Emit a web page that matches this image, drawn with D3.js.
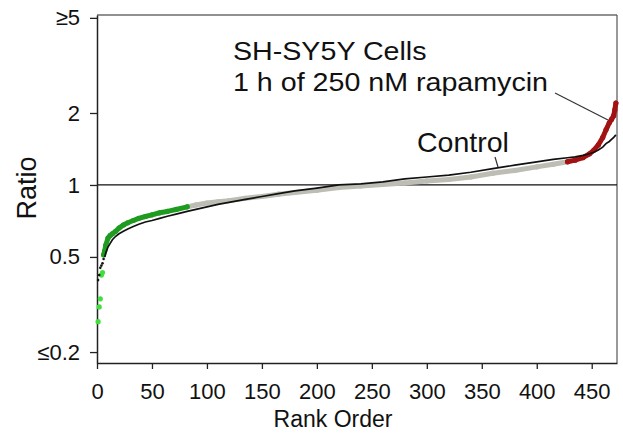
<!DOCTYPE html>
<html>
<head>
<meta charset="utf-8">
<script src="https://cdn.jsdelivr.net/npm/d3@7"></script>
<style>
  body { margin: 0; background: #fff; }
  text { font-family: "Liberation Sans", Arial, sans-serif; fill: #111; }
</style>
</head>
<body>
<svg id="chart" width="623" height="437"></svg>
<script>
// DATA
var ranks = [1,2,3,4,5,6,7,8,10,12,14,17,20,24,28,33,38,44,50,57,64,72,82,
             90,100,110,120,135,150,165,180,200,220,240,260,280,300,320,340,360,380,400,415,
             428,435,442,448,452,456,460,463,466,468,470,471,472];

var rapamycin = [0.268,0.309,0.334,0.42,0.43,0.51,0.53,0.56,0.60,0.615,0.625,0.64,0.66,0.68,0.695,0.71,0.725,0.738,0.75,0.765,0.775,0.79,0.81,
                 0.825,0.84,0.85,0.86,0.88,0.895,0.915,0.93,0.95,0.975,0.99,1.005,1.02,1.04,1.055,1.08,1.12,1.15,1.19,1.22,
                 1.25,1.27,1.30,1.35,1.40,1.47,1.58,1.70,1.82,1.88,1.95,2.06,2.2];

var control = [0.40,0.42,0.45,0.46,0.47,0.49,0.50,0.52,0.55,0.57,0.59,0.61,0.625,0.64,0.655,0.67,0.685,0.70,0.71,0.725,0.74,0.755,0.775,
               0.79,0.81,0.83,0.845,0.87,0.895,0.92,0.945,0.97,1.0,1.01,1.03,1.06,1.08,1.10,1.13,1.17,1.21,1.25,1.28,
               1.30,1.31,1.33,1.35,1.37,1.40,1.44,1.49,1.52,1.55,1.58,1.60,1.62];

var yTicks = [0.2, 0.5, 1, 2, 5];
var yTickLabels = ["\u22640.2", "0.5", "1", "2", "\u22655"];
var xTicks = [0,50,100,150,200,250,300,350,400,450];
var titleLines = ["SH-SY5Y Cells", "1 h of 250 nM rapamycin"];

// groups of the treated series by rank
var lowCut = 82, highCut = 428, sparseEnd = 5, controlLineStart = 7;

var svg = d3.select("#chart");

var x = d3.scaleLinear().domain([0, 473]).range([97, 617]);
var y = d3.scaleLog().domain([0.18, 5.14]).range([363, 15]);

var rapa = ranks.map(function(r, i) { return {x: r, y: rapamycin[i]}; });
var ctrl = ranks.map(function(r, i) { return {x: r, y: control[i]}; });

// frame (top and right)
svg.append("line").attr("x1", 97).attr("x2", 617).attr("y1", 15).attr("y2", 15)
  .attr("stroke", "#222").attr("stroke-width", 1.2);
svg.append("line").attr("x1", 617).attr("x2", 617).attr("y1", 15).attr("y2", 363)
  .attr("stroke", "#555").attr("stroke-width", 1.2);

// reference line at ratio 1
svg.append("line").attr("x1", x(0)).attr("x2", x(473)).attr("y1", y(1)).attr("y2", y(1))
  .attr("stroke", "#111").attr("stroke-width", 1.3);

// axes
var yAxis = svg.append("g").attr("transform", "translate(97,0)")
  .call(d3.axisLeft(y).tickValues(yTicks).tickSize(7).tickSizeOuter(0).tickPadding(10)
        .tickFormat(function(d, i) { return yTickLabels[i]; }));
var xAxis = svg.append("g").attr("transform", "translate(0,363)")
  .call(d3.axisBottom(x).tickValues(xTicks).tickSize(6).tickSizeOuter(0).tickPadding(14));

[yAxis, xAxis].forEach(function(a) {
  a.select(".domain").attr("stroke", "#222").attr("stroke-width", 1.5);
  a.selectAll(".tick line").attr("stroke", "#222").attr("stroke-width", 1.3);
  a.selectAll(".tick text").style("font-family", "'Liberation Sans', Arial, sans-serif")
    .style("font-size", "22px").attr("fill", "#222");
});

// treated series
var line = d3.line().x(function(d) { return x(d.x); }).y(function(d) { return y(d.y); });

var green = rapa.filter(function(d) { return d.x > sparseEnd && d.x <= lowCut; });
var gray = rapa.filter(function(d) { return d.x >= lowCut && d.x <= highCut; });
var red = rapa.filter(function(d) { return d.x >= highCut; });

[[gray, "#bdbdb4"], [green, "#1f9c1f"], [red, "#a31212"]].forEach(function(g) {
  svg.append("path").datum(g[0]).attr("d", line)
    .attr("fill", "none").attr("stroke", g[1]).attr("stroke-width", 5)
    .attr("stroke-linecap", "round").attr("stroke-linejoin", "round");
});

svg.selectAll(".rdot").data(rapa).enter().append("circle")
  .attr("class", "rdot")
  .attr("cx", function(d) { return x(d.x); })
  .attr("cy", function(d) { return y(d.y); })
  .attr("r", 2.6)
  .attr("fill", function(d) {
    if (d.x <= sparseEnd) return "#3fe03a";
    if (d.x <= lowCut) return "#1f9c1f";
    if (d.x >= highCut) return "#a31212";
    return "#bdbdb4";
  });

// control series
svg.append("path").datum(ctrl.filter(function(d) { return d.x >= controlLineStart; }))
  .attr("d", line).attr("fill", "none").attr("stroke", "#111").attr("stroke-width", 1.7);
svg.selectAll(".cdot").data(ctrl.filter(function(d) { return d.x < controlLineStart; }))
  .enter().append("circle").attr("class", "cdot")
  .attr("cx", function(d) { return x(d.x); })
  .attr("cy", function(d) { return y(d.y); })
  .attr("r", 1.3).attr("fill", "#111");

// axis titles
svg.append("text").attr("transform", "translate(36,188) rotate(-90)")
  .attr("text-anchor", "middle").style("font-size", "27px").text("Ratio");
svg.append("text").attr("x", 333).attr("y", 427)
  .attr("text-anchor", "middle").style("font-size", "23px").text("Rank Order");

// annotations (slightly widened, as in the original figure)
svg.selectAll(".title").data(titleLines).enter().append("text")
  .attr("class", "title")
  .attr("transform", function(d, i) { return "translate(233," + (i ? 91 : 60) + ") scale(1.08,1)"; })
  .style("font-size", "26.5px")
  .text(function(d) { return d; });
svg.append("line").attr("x1", 555).attr("y1", 93).attr("x2", 608).attr("y2", 120)
  .attr("stroke", "#333").attr("stroke-width", 1.2);
svg.append("text").attr("x", 417).attr("y", 152).style("font-size", "28.5px").text("Control");
svg.append("line").attr("x1", 495).attr("y1", 157).attr("x2", 498).attr("y2", 167)
  .attr("stroke", "#333").attr("stroke-width", 1.2);
</script>
</body>
</html>
